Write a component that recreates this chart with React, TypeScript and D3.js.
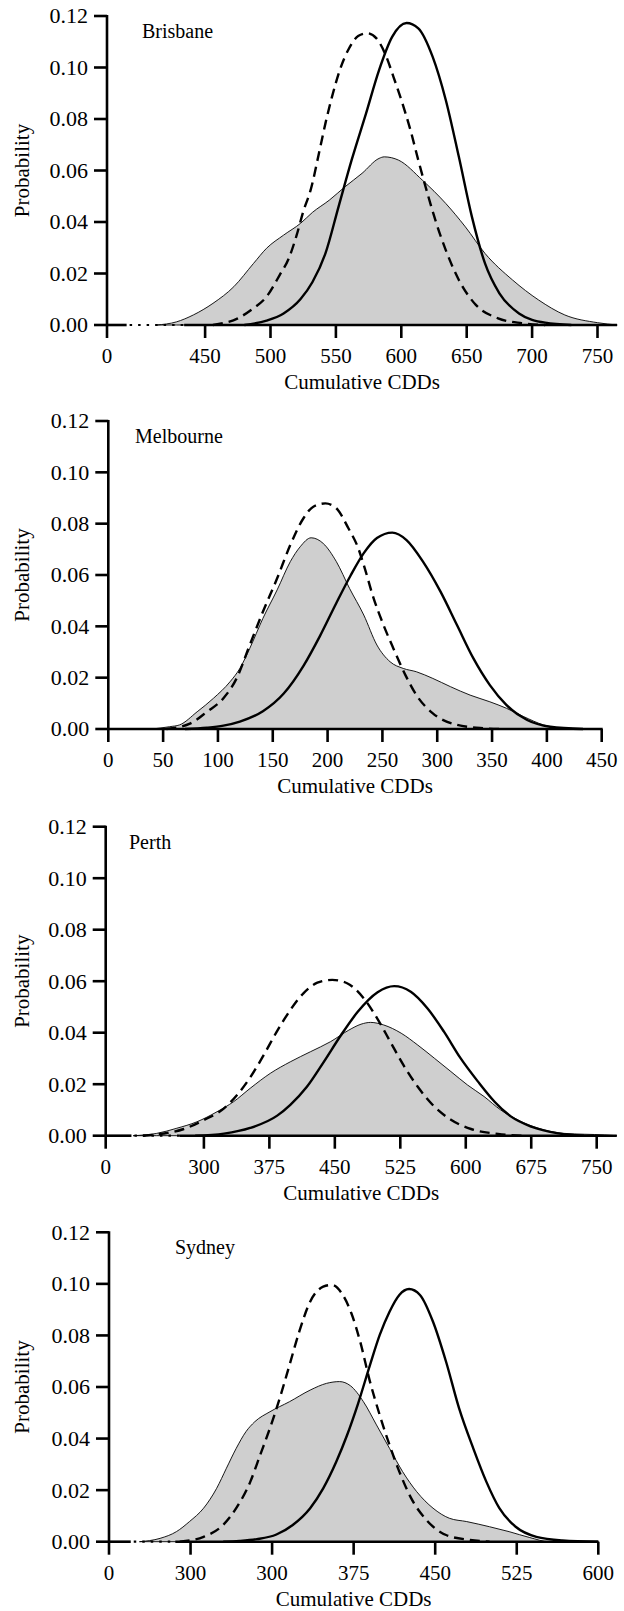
import React from 'react';
import * as d3 from 'd3';

type Pt = [number, number];

// y axis is shared by all four panels
const yTicks = [0, 0.02, 0.04, 0.06, 0.08, 0.1, 0.12];

// Brisbane (axis broken between "0" and 450)
const brisbaneTicks = [375, 450, 500, 550, 600, 650, 700, 750];
const brisbaneTickLabels = ['0', '450', '500', '550', '600', '650', '700', '750'];
const brisbaneObserved: Pt[] = [
  [413, 0], [428, 0.0012], [441, 0.0039], [456, 0.0084], [472, 0.0149], [487, 0.0239],
  [497, 0.0298], [510, 0.0349], [523, 0.0395], [532, 0.0437], [545, 0.0485], [557, 0.0537],
  [570, 0.0589], [583, 0.0647], [587, 0.0653], [598, 0.064], [616, 0.0563], [634, 0.0472],
  [649, 0.0381], [664, 0.0278], [685, 0.0175], [705, 0.0097], [725, 0.0039], [750, 0.0009],
  [765, 0],
];
const brisbaneDashed: Pt[] = [
  [456, 0], [475, 0.0026], [487, 0.0065], [497, 0.011], [507, 0.0194], [514, 0.0259],
  [520, 0.0349], [525, 0.044], [531, 0.053], [537, 0.0666], [542, 0.0783], [547, 0.0886],
  [553, 0.099], [560, 0.1074], [567, 0.1122], [574, 0.1133], [581, 0.1113], [588, 0.1049],
  [594, 0.0964], [600, 0.0874], [607, 0.0757], [613, 0.064], [620, 0.0511], [626, 0.0408],
  [634, 0.0291], [644, 0.0175], [657, 0.0078], [674, 0.0026], [692, 0.0007], [710, 0],
];
const brisbaneSolid: Pt[] = [
  [480, 0], [497, 0.0017], [510, 0.0045], [523, 0.0101], [532, 0.0166], [542, 0.0278],
  [552, 0.0459], [562, 0.064], [573, 0.0821], [583, 0.099], [593, 0.1119], [604, 0.1173],
  [613, 0.1152], [624, 0.1041], [634, 0.0874], [644, 0.0653], [654, 0.042], [664, 0.0239],
  [675, 0.0123], [690, 0.0045], [710, 0.0009], [730, 0],
];

// Melbourne (plain axis from 0)
const melbourneTicks = [0, 50, 100, 150, 200, 250, 300, 350, 400, 450];
const melbourneTickLabels = ['0', '50', '100', '150', '200', '250', '300', '350', '400', '450'];
const melbourneObserved: Pt[] = [
  [40, 0], [56, 0.0009], [65, 0.0016], [81, 0.0067], [96, 0.012], [111, 0.0184],
  [120, 0.0236], [129, 0.0314], [141, 0.0431], [154, 0.0542], [166, 0.0652], [175, 0.071],
  [185, 0.0745], [196, 0.0723], [208, 0.0652], [220, 0.0548], [233, 0.0444], [245, 0.0327],
  [257, 0.0262], [269, 0.0236], [281, 0.0223], [296, 0.0197], [312, 0.0165], [330, 0.0132],
  [348, 0.0106], [363, 0.0081], [379, 0.0048], [397, 0.0016], [415, 0.0003], [450, 0],
];
const melbourneDashed: Pt[] = [
  [53, 0], [75, 0.0022], [90, 0.0067], [105, 0.012], [117, 0.0197], [129, 0.0327],
  [141, 0.0457], [154, 0.0587], [166, 0.0717], [178, 0.0821], [187, 0.0866], [198, 0.0879],
  [208, 0.086], [219, 0.0782], [228, 0.0704], [233, 0.0639], [242, 0.0509], [251, 0.0405],
  [260, 0.0314], [271, 0.021], [281, 0.0132], [296, 0.0061], [318, 0.0016], [342, 0.0003],
  [360, 0],
];
const melbourneSolid: Pt[] = [
  [70, 0], [90, 0.0005], [105, 0.0013], [120, 0.0029], [141, 0.0069], [160, 0.0138],
  [178, 0.0246], [193, 0.0362], [208, 0.0491], [221, 0.0598], [233, 0.0685], [245, 0.0744],
  [259, 0.0765], [272, 0.0736], [287, 0.0652], [303, 0.0535], [318, 0.0405], [333, 0.0275],
  [348, 0.0171], [363, 0.0094], [382, 0.0035], [403, 0.0009], [433, 0],
];

// Perth (axis broken between "0" and 300)
const perthTicks = [187.5, 300, 375, 450, 525, 600, 675, 750];
const perthTickLabels = ['0', '300', '375', '450', '525', '600', '675', '750'];
const perthObserved: Pt[] = [
  [219, 0], [246, 0.0009], [269, 0.0029], [292, 0.0054], [315, 0.0093], [334, 0.0132],
  [353, 0.0184], [376, 0.0242], [399, 0.0287], [422, 0.0326], [445, 0.0365], [466, 0.041],
  [480, 0.0433], [491, 0.044], [506, 0.043], [526, 0.0398], [545, 0.0352], [564, 0.0301],
  [583, 0.0249], [602, 0.0197], [621, 0.0152], [640, 0.01], [660, 0.0061], [683, 0.0029],
  [713, 0.0009], [759, 0.0003], [773, 0],
];
const perthDashed: Pt[] = [
  [230, 0], [246, 0.0005], [277, 0.0026], [300, 0.0061], [323, 0.0106], [338, 0.0158],
  [353, 0.0226], [369, 0.0316], [384, 0.0407], [399, 0.0488], [414, 0.0553], [430, 0.0594],
  [447, 0.0605], [464, 0.0592], [483, 0.0534], [499, 0.0453], [514, 0.0362], [529, 0.0272],
  [545, 0.019], [564, 0.0113], [583, 0.0062], [606, 0.0026], [637, 0.0007], [667, 0],
];
const perthSolid: Pt[] = [
  [290, 0], [323, 0.0008], [353, 0.003], [384, 0.0078], [399, 0.012], [418, 0.019],
  [437, 0.0285], [457, 0.039], [476, 0.048], [499, 0.0557], [518, 0.0581], [537, 0.0559],
  [556, 0.0495], [575, 0.0404], [594, 0.0301], [614, 0.021], [633, 0.0132], [652, 0.0074],
  [675, 0.0035], [706, 0.0009], [736, 0],
];

// Sydney (second tick is printed "300" in the source figure)
const sydneyTicks = [150, 225, 300, 375, 450, 525, 600];
const sydneyTickLabels = ['0', '300', '300', '375', '450', '525', '600'];
const sydneyObserved: Pt[] = [
  [178, 0], [197, 0.0013], [212, 0.0039], [224, 0.0078], [237, 0.013], [249, 0.0207],
  [258, 0.0285], [267, 0.0362], [276, 0.0427], [284, 0.0465], [298, 0.0504], [316, 0.0543],
  [335, 0.0588], [350, 0.0614], [362, 0.0621], [372, 0.0605], [384, 0.0543], [396, 0.0453],
  [408, 0.0362], [420, 0.0272], [433, 0.0194], [448, 0.013], [463, 0.0091], [479, 0.0078],
  [500, 0.0058], [518, 0.0039], [537, 0.0016], [555, 0], [600, 0],
];
const sydneyDashed: Pt[] = [
  [215, 0], [237, 0.0019], [255, 0.0065], [267, 0.013], [280, 0.0233], [289, 0.0336],
  [298, 0.044], [307, 0.0556], [316, 0.0685], [325, 0.0815], [335, 0.0931], [347, 0.0989],
  [355, 0.0996], [365, 0.0957], [373, 0.0885], [381, 0.0776], [390, 0.0621], [399, 0.0491],
  [408, 0.0375], [417, 0.0272], [428, 0.0168], [442, 0.0084], [460, 0.0026], [482, 0.0007],
  [500, 0],
];
const sydneySolid: Pt[] = [
  [255, 0], [270, 0.0003], [286, 0.001], [304, 0.0028], [319, 0.0065], [335, 0.013],
  [347, 0.0207], [359, 0.031], [369, 0.0414], [379, 0.0535], [390, 0.0685], [399, 0.0802],
  [408, 0.0892], [417, 0.0957], [426, 0.098], [436, 0.0957], [448, 0.0853], [460, 0.0698],
  [472, 0.0517], [485, 0.0362], [497, 0.0233], [509, 0.013], [524, 0.0058], [543, 0.0019],
  [567, 0.0005], [600, 0],
];

const FONT = "'Liberation Serif', 'Times New Roman', Tinos, 'DejaVu Serif', serif";

type PanelSpec = {
  name: string;
  ticks: number[];
  tickLabels: string[];
  observed: Pt[];
  dashed: Pt[];
  solid: Pt[];
  left: number;
  right: number;
  top: number;
  bottom: number;
  axisEnd: number;
  brk: [number, number] | null;
  nameX: number;
};

const panels: PanelSpec[] = [
  {
    name: 'Brisbane', ticks: brisbaneTicks, tickLabels: brisbaneTickLabels,
    observed: brisbaneObserved, dashed: brisbaneDashed, solid: brisbaneSolid,
    left: 107, right: 597.5, top: 16, bottom: 325, axisEnd: 765, brk: [390, 434], nameX: 142,
  },
  {
    name: 'Melbourne', ticks: melbourneTicks, tickLabels: melbourneTickLabels,
    observed: melbourneObserved, dashed: melbourneDashed, solid: melbourneSolid,
    left: 108.3, right: 601.7, top: 421, bottom: 729, axisEnd: 450, brk: null, nameX: 135,
  },
  {
    name: 'Perth', ticks: perthTicks, tickLabels: perthTickLabels,
    observed: perthObserved, dashed: perthDashed, solid: perthSolid,
    left: 105.7, right: 596.7, top: 826.7, bottom: 1135.7, axisEnd: 773, brk: [217, 272], nameX: 129,
  },
  {
    name: 'Sydney', ticks: sydneyTicks, tickLabels: sydneyTickLabels,
    observed: sydneyObserved, dashed: sydneyDashed, solid: sydneySolid,
    left: 109, right: 598.3, top: 1232.3, bottom: 1541.7, axisEnd: 600, brk: [170, 211], nameX: 175,
  },
];

const textStyle: React.CSSProperties = { fontFamily: FONT, fontSize: 21, fill: '#000' };

function Panel({ p }: { p: PanelSpec }) {
  const x = d3.scaleLinear().domain([p.ticks[0], p.ticks[p.ticks.length - 1]]).range([p.left, p.right]);
  const y = d3.scaleLinear().domain([0, 0.12]).range([p.bottom, p.top]);

  const area = d3.area<Pt>().x((d) => x(d[0])).y0(y(0)).y1((d) => y(d[1])).curve(d3.curveMonotoneX);
  const line = d3.line<Pt>().x((d) => x(d[0])).y((d) => y(d[1])).curve(d3.curveMonotoneX);

  const y0 = y(0);
  const x0 = x(p.ticks[0]);
  const xEnd = x(p.axisEnd);
  const axisStroke = { stroke: '#000', strokeWidth: 2.6 };

  return (
    <g>
      <path d={area(p.observed) || ''} fill="#cfcfcf" stroke="#000" strokeWidth={0.9} />
      <path d={line(p.dashed) || ''} fill="none" stroke="#000" strokeWidth={2.4} strokeDasharray="10 6" />
      <path d={line(p.solid) || ''} fill="none" stroke="#000" strokeWidth={2.4} />

      {/* y axis */}
      <line x1={x0} x2={x0} y1={y(0.12) - 1} y2={y0} {...axisStroke} />
      {yTicks.map((t) => (
        <g key={t}>
          <line x1={x0 - 13} x2={x0} y1={y(t)} y2={y(t)} {...axisStroke} />
          <text x={x0 - 19} y={y(t)} dy="0.34em" textAnchor="end" style={{ ...textStyle, fontSize: 22 }}>
            {t.toFixed(2)}
          </text>
        </g>
      ))}

      {/* x axis, with a dotted break where the scale jumps */}
      {p.brk ? (
        <g>
          <line x1={x0} x2={x(p.brk[0])} y1={y0} y2={y0} {...axisStroke} />
          <line x1={x(p.brk[0]) + 3} x2={x(p.brk[1])} y1={y0} y2={y0} stroke="#000" strokeWidth={2.2} strokeDasharray="2.5 6" />
          <line x1={x(p.brk[1])} x2={xEnd} y1={y0} y2={y0} {...axisStroke} />
        </g>
      ) : (
        <line x1={x0} x2={xEnd + 1} y1={y0} y2={y0} {...axisStroke} />
      )}
      {p.ticks.map((t, i) => (
        <g key={i}>
          <line x1={x(t)} x2={x(t)} y1={y0} y2={y0 + 13} {...axisStroke} />
          <text x={x(t)} y={y0 + 38} textAnchor="middle" style={textStyle}>
            {p.tickLabels[i]}
          </text>
        </g>
      ))}

      <text x={(x0 + xEnd) / 2} y={y0 + 64} textAnchor="middle" style={textStyle}>
        Cumulative CDDs
      </text>
      <text
        transform={`translate(22,${(p.top + p.bottom) / 2}) rotate(-90)`}
        textAnchor="middle"
        dy="0.34em"
        style={textStyle}
      >
        Probability
      </text>
      <text x={p.nameX} y={p.top + 22} style={{ ...textStyle, fontSize: 20 }}>
        {p.name}
      </text>
    </g>
  );
}

export default function App() {
  return (
    <svg
      width={624}
      height={1611}
      viewBox="0 0 624 1611"
      style={{ position: 'absolute', left: 0, top: 0, background: '#fff' }}
    >
      <rect x={0} y={0} width={624} height={1611} fill="#fff" />
      {panels.map((p) => (
        <Panel key={p.name} p={p} />
      ))}
    </svg>
  );
}
